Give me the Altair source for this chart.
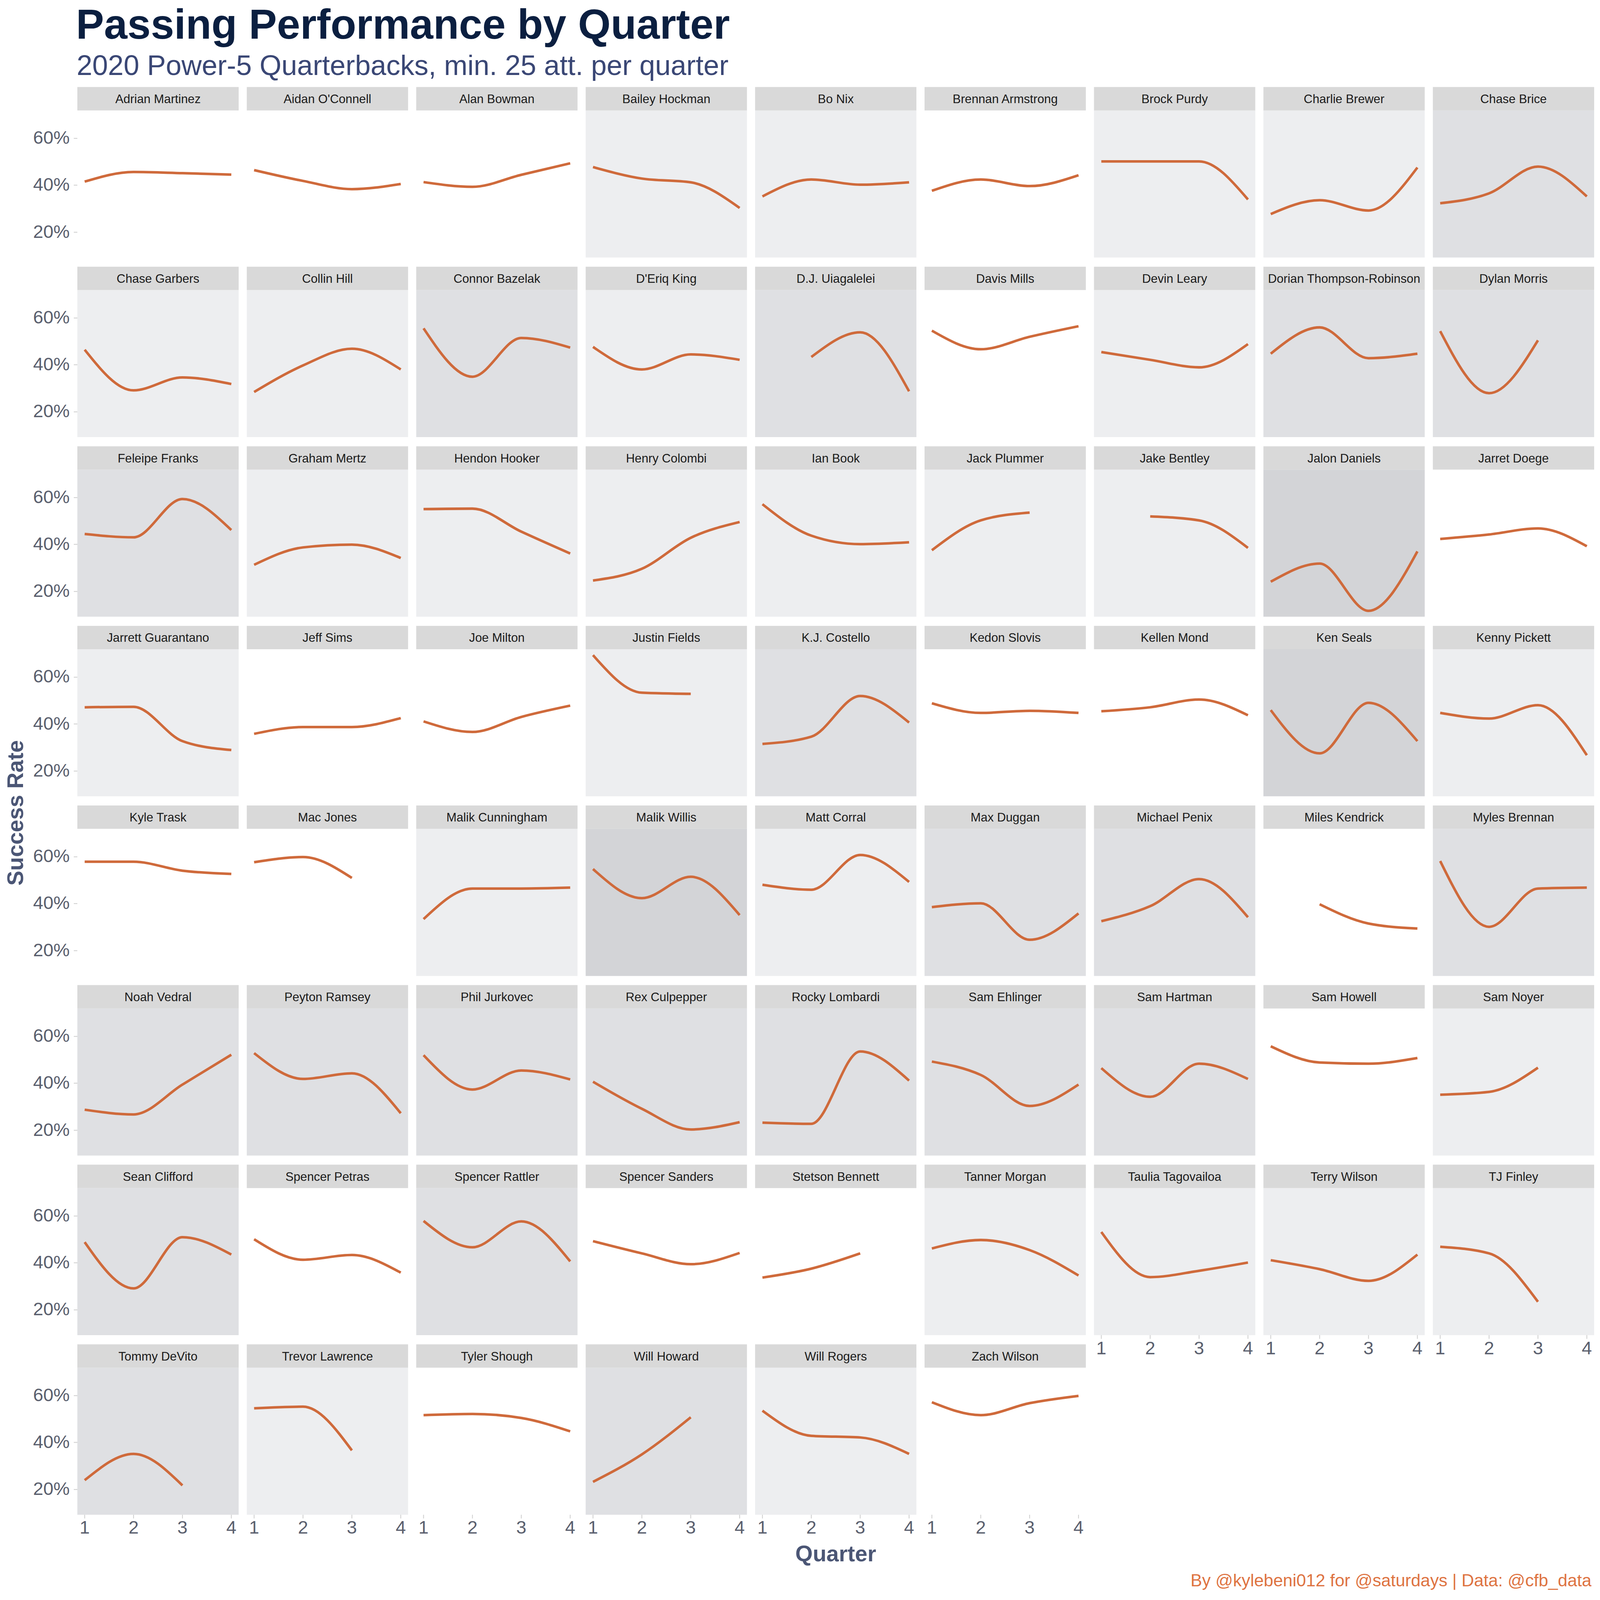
import altair as alt
import pandas as pd

players = [
    "Adrian Martinez", "Aidan O'Connell", "Alan Bowman", "Bailey Hockman", "Bo Nix",
    "Brennan Armstrong", "Brock Purdy", "Charlie Brewer", "Chase Brice",
    "Chase Garbers", "Collin Hill", "Connor Bazelak", "D'Eriq King", "D.J. Uiagalelei",
    "Davis Mills", "Devin Leary", "Dorian Thompson-Robinson", "Dylan Morris",
    "Feleipe Franks", "Graham Mertz", "Hendon Hooker", "Henry Colombi", "Ian Book",
    "Jack Plummer", "Jake Bentley", "Jalon Daniels", "Jarret Doege",
    "Jarrett Guarantano", "Jeff Sims", "Joe Milton", "Justin Fields", "K.J. Costello",
    "Kedon Slovis", "Kellen Mond", "Ken Seals", "Kenny Pickett",
    "Kyle Trask", "Mac Jones", "Malik Cunningham", "Malik Willis", "Matt Corral",
    "Max Duggan", "Michael Penix", "Miles Kendrick", "Myles Brennan",
    "Noah Vedral", "Peyton Ramsey", "Phil Jurkovec", "Rex Culpepper", "Rocky Lombardi",
    "Sam Ehlinger", "Sam Hartman", "Sam Howell", "Sam Noyer",
    "Sean Clifford", "Spencer Petras", "Spencer Rattler", "Spencer Sanders",
    "Stetson Bennett", "Tanner Morgan", "Taulia Tagovailoa", "Terry Wilson", "TJ Finley",
    "Tommy DeVito", "Trevor Lawrence", "Tyler Shough", "Will Howard", "Will Rogers",
    "Zach Wilson",
]

# success rate (%) per quarter, None = fewer than 25 attempts
q1 = [41.5, 46.4, 41.3, 47.7, 35.2, 37.6, 50.1, 27.7, 32.3,
      46.4, 28.4, 55.5, 47.6, None, 54.5, 45.4, 44.7, 54.3,
      44.4, 31.3, 55.0, 24.6, 57.1, 37.5, None, 24.1, 42.3,
      47.1, 35.8, 41.1, 69.3, 31.5, 48.8, 45.4, 45.9, 44.7,
      57.8, 57.6, 33.4, 54.7, 48.0, 38.5, 32.5, None, 58.1,
      28.7, 52.8, 51.9, 40.6, 23.2, 49.2, 46.4, 55.7, 35.1,
      48.8, 50.0, 57.8, 49.2, 33.7, 46.1, 53.1, 41.1, 46.8,
      23.9, 54.5, 51.6, 23.2, 53.5, 57.1]
q2 = [45.6, 41.8, 39.3, 42.8, 42.4, 42.4, 50.1, 33.6, 36.5,
      29.1, 39.7, 34.9, 38.0, 43.3, 46.6, 42.1, 55.9, 27.9,
      43.0, 38.7, 55.2, 29.6, 43.7, 50.2, 51.9, 31.8, 44.2,
      47.3, 38.7, 36.6, 53.3, 34.6, 44.7, 47.1, 27.5, 42.3,
      57.8, 59.8, 46.4, 42.3, 45.9, 40.1, 38.9, 39.7, 30.1,
      26.7, 41.8, 37.3, 29.1, 22.7, 43.5, 34.2, 48.8, 36.3,
      29.1, 41.3, 46.6, 44.0, 37.5, 49.7, 33.9, 37.3, 44.0,
      35.1, 55.2, 52.1, 34.9, 42.8, 51.6]
q3 = [45.1, 38.3, 44.4, 41.2, 40.2, 39.6, 50.1, 29.2, 47.9,
      34.6, 46.8, 51.4, 44.4, 53.8, 51.9, 38.9, 42.8, 50.4,
      59.3, 39.9, 45.4, 42.8, 40.1, 53.5, 50.2, 11.7, 46.8,
      32.7, 38.7, 43.0, 52.8, 51.9, 45.6, 50.4, 49.0, 48.0,
      54.0, 50.9, 46.4, 51.4, 60.7, 24.6, 50.4, 31.5, 46.4,
      39.4, 44.2, 45.4, 20.3, 53.5, 30.3, 48.3, 48.3, 46.6,
      50.9, 43.3, 57.6, 39.4, 44.0, 45.4, 36.6, 32.3, 23.4,
      21.7, 36.6, 50.4, 50.7, 42.1, 56.7]
q4 = [44.5, 40.5, 49.3, 30.3, 41.2, 44.2, 33.9, 47.5, 35.2,
      31.8, 38.0, 47.3, 42.1, 28.7, 56.4, 48.8, 44.7, None,
      46.1, 34.2, 36.1, 49.5, 40.9, None, 38.5, 37.0, 39.2,
      28.9, 42.5, 47.8, None, 40.6, 44.7, 43.7, 32.7, 26.7,
      52.6, None, 46.8, 35.1, 49.2, 35.8, 34.2, 29.4, 46.8,
      52.1, 27.2, 41.6, 23.4, 41.1, 39.4, 41.8, 50.7, None,
      43.5, 35.8, 40.6, 44.2, None, 34.6, 40.1, 43.5, None,
      None, None, 44.7, None, 35.1, 59.8]

# panel shading level (0 = none ... 3 = strongest)
shade = [0, 0, 0, 1, 1, 0, 1, 1, 2,
         1, 1, 2, 1, 2, 0, 1, 2, 2,
         2, 1, 1, 1, 1, 1, 1, 3, 0,
         1, 0, 0, 1, 2, 0, 0, 3, 1,
         0, 0, 1, 3, 1, 2, 2, 0, 2,
         2, 2, 2, 2, 2, 2, 2, 0, 1,
         2, 0, 2, 0, 0, 1, 1, 1, 1,
         2, 1, 0, 2, 1, 0]

quarters = [1, 2, 3, 4]
pct_ticks = [20, 40, 60]
# panels that carry the quarter axis (lowest panel of each column)
bottom_panels = ["Tommy DeVito", "Trevor Lawrence", "Tyler Shough", "Will Howard",
                 "Will Rogers", "Zach Wilson", "Taulia Tagovailoa", "Terry Wilson",
                 "TJ Finley"]

title_text = "Passing Performance by Quarter"
subtitle_text = "2020 Power-5 Quarterbacks, min. 25 att. per quarter"
y_title = "Success Rate"
x_title = "Quarter"
caption_text = "By @kylebeni012 for @saturdays | Data: @cfb_data"

rows = []
for i, p in enumerate(players):
    rows.append({"player": p, "kind": "panel", "shade": shade[i]})
    for q, arr in zip(quarters, [q1, q2, q3, q4]):
        if arr[i] is not None:
            rows.append({"player": p, "kind": "pt", "quarter": q, "rate": arr[i]})
for p in bottom_panels:
    for q in quarters:
        rows.append({"player": p, "kind": "xtick", "quarter": q})
# chart-level texts are drawn from the panels they sit next to
rows.append({"player": players[0], "kind": "title", "label": title_text})
rows.append({"player": players[0], "kind": "subtitle", "label": subtitle_text})
rows.append({"player": "Jarrett Guarantano", "kind": "ytitle", "label": y_title})
rows.append({"player": "Will Rogers", "kind": "xtitle", "label": x_title})
rows.append({"player": "Zach Wilson", "kind": "caption", "label": caption_text})
df = pd.DataFrame(rows)

W, H, STRIP = 476, 434, 69
FONT = "Liberation Sans"
ORANGE = "#CF6A3B"
AXIS_TITLE = "#4B5675"
TICK = "#D0D0D0"
LABEL = "#5A5F6E"

x_scale = alt.Scale(domain=[0.85, 4.15], nice=False, zero=False)

base = alt.Chart()


def only(kind):
    return base.transform_filter(f"datum.kind == '{kind}'")


bg = only("panel").mark_rect().encode(
    x=alt.value(0), x2=alt.value("width"),
    y=alt.value(0), y2=alt.value("height"),
    color=alt.Color("shade:O",
                    scale=alt.Scale(domain=[0, 1, 2, 3],
                                    range=["#FFFFFF", "#EDEEF0", "#DFE0E3", "#D3D4D7"]),
                    legend=None),
)

strip = only("panel").mark_rect(color="#D9D9D9").encode(
    x=alt.value(0), x2=alt.value("width"),
    y=alt.value(-STRIP), y2=alt.value(0),
)

strip_text = only("panel").mark_text(
    font=FONT, fontSize=36, color="#1A1A1A", align="center", baseline="middle"
).encode(x=alt.value(W / 2), y=alt.value(-STRIP / 2 + 2), text="player:N")

title = only("title").mark_text(
    font=FONT, fontSize=124, fontWeight="bold", color="#0B1F40",
    align="left", baseline="alphabetic"
).encode(x=alt.value(-4), y=alt.value(-212), text="label:N")

subtitle = only("subtitle").mark_text(
    font=FONT, fontSize=83, color="#3A4775", align="left", baseline="alphabetic"
).encode(x=alt.value(-2), y=alt.value(-105), text="label:N")

ytitle = only("ytitle").mark_text(
    font=FONT, fontSize=66, fontWeight="bold", color=AXIS_TITLE,
    align="center", baseline="middle", angle=270
).encode(x=alt.value(-180), y=alt.value(H + 49), text="label:N")

xtitle = only("xtitle").mark_text(
    font=FONT, fontSize=66, fontWeight="bold", color=AXIS_TITLE,
    align="center", baseline="middle"
).encode(x=alt.value(W / 2), y=alt.value(H + 118), text="label:N")

caption = only("caption").mark_text(
    font=FONT, fontSize=51, color="#DE7341", align="right", baseline="middle"
).encode(x=alt.value(1968), y=alt.value(H + 196), text="label:N")

xtick = only("xtick").mark_rule(color=TICK, strokeWidth=2.5).encode(
    x=alt.X("quarter:Q", scale=x_scale, axis=None),
    y=alt.value(H), y2=alt.value(H + 11),
)

xtick_label = only("xtick").mark_text(
    font=FONT, fontSize=54, color=LABEL, align="center", baseline="middle"
).encode(
    x=alt.X("quarter:Q", scale=x_scale, axis=None),
    y=alt.value(H + 40),
    text=alt.Text("quarter:Q", format="d"),
)

line = only("pt").mark_line(
    interpolate="monotone", color=ORANGE, strokeWidth=7.5
).encode(
    x=alt.X("quarter:Q", scale=x_scale, axis=None),
    y=alt.Y("rate:Q",
            scale=alt.Scale(domain=[9.2, 71.8], nice=False, zero=False),
            axis=alt.Axis(values=pct_ticks, labelExpr="datum.value + '%'", title=None)),
)

chart = alt.layer(
    bg, strip, strip_text, line, xtick, xtick_label,
    title, subtitle, ytitle, xtitle, caption, data=df
).properties(
    width=W, height=H
).facet(
    facet=alt.Facet("player:N", sort=players, title=None,
                    header=alt.Header(labels=False, labelExpr="''", labelFontSize=1,
                                      labelPadding=0, title=None)),
    columns=9,
    spacing={"row": 96, "column": 24},
    bounds="flush",
).properties(
    padding={"left": 6, "top": -328, "right": 8, "bottom": 8},
    background="white",
).configure_view(stroke=None).configure_axis(
    domain=False, grid=False,
    tickColor=TICK, tickWidth=2.5, tickSize=11,
    labelFont=FONT, labelFontSize=54, labelColor=LABEL, labelPadding=12,
)

chart.save("out.html", embed_options={"renderer": "svg", "actions": False})
